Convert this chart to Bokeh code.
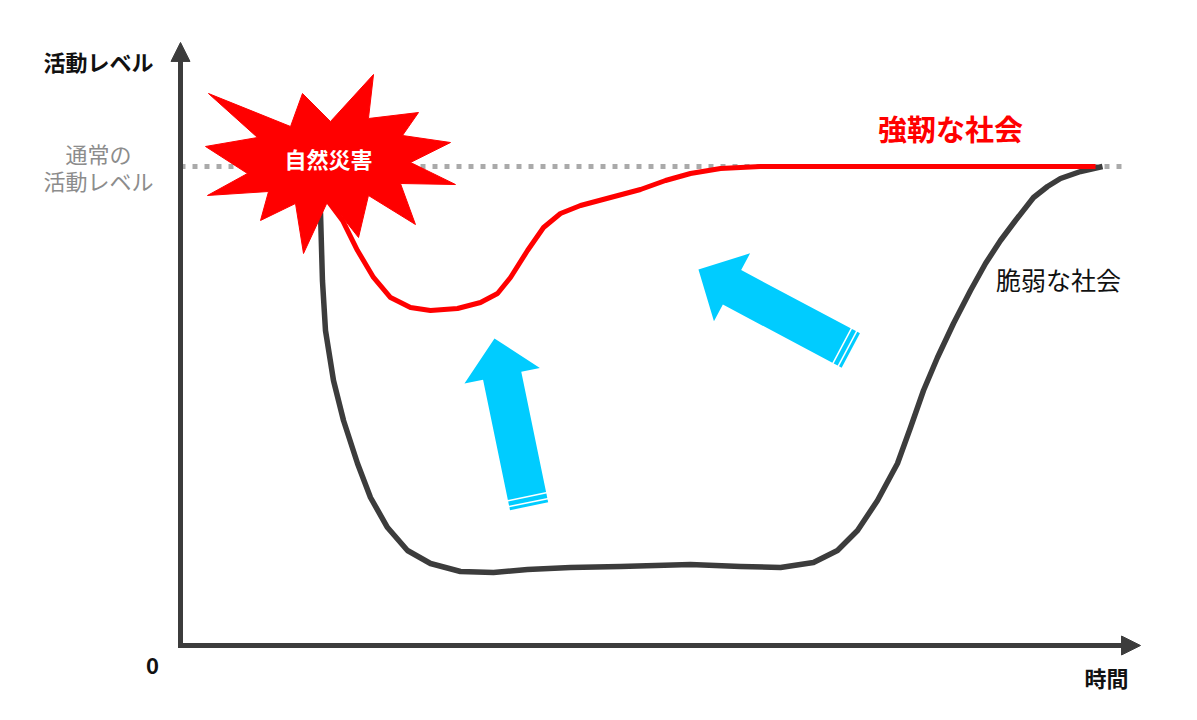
import numpy as np
from bokeh.plotting import figure
from bokeh.models import Range1d, Label, Arrow, NormalHead
from bokeh.embed import file_html
from bokeh.resources import INLINE

# time runs 0..100, activity level: normal = 100
fragile_t = [15.0, 15.22, 15.43, 15.76, 16.63, 17.72, 19.24, 20.65, 22.50, 24.67, 27.17, 30.43,
             34.02, 37.72, 42.39, 47.83, 55.43, 60.87, 65.22, 68.80, 71.41, 73.59, 75.76,
             77.93, 79.35, 80.76, 82.28, 84.02, 85.87, 87.50, 89.13, 90.76, 92.72, 94.24,
             95.65, 97.83, 100.22]
fragile_level = [97.1, 90.19, 76.20, 65.76, 55.32, 46.97, 38.00, 30.90, 24.63, 19.83, 17.12, 15.45,
                 15.24, 15.87, 16.28, 16.49, 16.91, 16.49, 16.28, 17.33, 19.83, 24.01, 30.27,
                 38.00, 45.51, 53.24, 60.13, 67.22, 74.11, 79.75, 84.55, 88.73, 93.53, 95.82,
                 97.49, 98.96, 100.0]

resilient_t = [15.43, 15.98, 17.61, 19.24, 20.98, 22.83, 25.00, 27.17, 30.11, 32.61, 34.46, 35.87,
               37.72, 39.46, 41.30, 43.48, 46.74, 50.00, 52.72, 55.43, 58.70, 63.04, 78.26, 99.46]
resilient_level = [96.03, 92.90, 88.73, 82.46, 76.83, 72.65, 70.56, 69.94, 70.35, 71.61, 73.49, 76.83,
                   82.46, 87.27, 90.19, 91.86, 93.53, 95.20, 97.08, 98.54, 99.58, 100.0, 100.0, 100.0]

normal_level = 100
normal_end = 102.4

# starburst outline (disaster marker)
burst_t = [3.04, 11.96, 13.26, 16.30, 20.98, 20.43, 25.87, 24.13, 29.35, 25.00, 29.89, 23.91,
           25.54, 20.43, 19.35, 16.09, 13.37, 12.50, 8.70, 9.57, 2.93, 7.28, 2.72, 8.37]
burst_level = [115.24, 108.35, 115.24, 109.39, 119.21, 110.02, 111.27, 106.47, 105.01, 100.84,
               96.24, 96.45, 87.89, 93.95, 85.18, 93.11, 81.84, 92.28, 88.73, 94.78, 93.95,
               98.54, 104.18, 106.05]

# recovery arrows: tail -> tip
arrow_tail_t = [37.66, 71.85]
arrow_tail_level = [31.21, 62.63]
arrow_tip_t = [34.13, 56.30]
arrow_tip_level = [64.09, 78.50]

W, H = 1180, 703
PX_T = 9.2
PX_L = 4.79
OX, OY = 180, 645

DARK = "#3c3c3c"
RED = "#ff0000"
CYAN = "#00ccff"
FONT = "Noto Sans CJK JP"


def to_px(t, l):
    return np.array([OX + t * PX_T, OY - l * PX_L])


def to_data(pts):
    pts = np.array(pts)
    return list((pts[:, 0] - OX) / PX_T), list((OY - pts[:, 1]) / PX_L)


def block_arrow(t0, l0, t1, l1, shaft=39, head=77, head_len=38):
    a = to_px(t0, l0)
    tip = to_px(t1, l1)
    d = tip - a
    d = d / np.hypot(*d)
    n = np.array([-d[1], d[0]])
    base = tip - d * head_len
    body = [a + n * shaft / 2, base + n * shaft / 2, base + n * head / 2, tip,
            base - n * head / 2, base - n * shaft / 2, a - n * shaft / 2]
    shapes = [to_data(body)]
    s = 1.5
    for band in (4.5, 3):
        st = a - d * s
        en = st - d * band
        shapes.append(to_data([st + n * shaft / 2, en + n * shaft / 2,
                               en - n * shaft / 2, st - n * shaft / 2]))
        s += band + 1.5
    return shapes


p = figure(width=W, height=H, output_backend="svg", toolbar_location=None,
           x_range=Range1d(-OX / PX_T, (W - OX) / PX_T),
           y_range=Range1d(-(H - OY) / PX_L, OY / PX_L),
           x_axis_type=None, y_axis_type=None, min_border=0)
p.grid.visible = False
p.outline_line_color = None

# normal activity level
p.line([0, normal_end], [normal_level, normal_level], line_color="#aaaaaa",
       line_width=5, line_dash="5 7")

# axes
p.line([0, 0, 103.3], [123.2, 0, 0], line_color=DARK, line_width=5, line_join="miter")
p.add_layout(Arrow(end=NormalHead(size=19, fill_color=DARK, line_color=DARK),
                   x_start=0, y_start=110, x_end=0, y_end=125.9, line_alpha=0))
p.add_layout(Arrow(end=NormalHead(size=19, fill_color=DARK, line_color=DARK),
                   x_start=95, y_start=0, x_end=104.35, y_end=0, line_alpha=0))

# curves
p.line(fragile_t, fragile_level, line_color=DARK, line_width=5.5, line_join="round")
p.line(resilient_t, resilient_level, line_color=RED, line_width=5, line_join="round")

# recovery arrows
xs, ys = [], []
for i in range(len(arrow_tail_t)):
    for sx, sy in block_arrow(arrow_tail_t[i], arrow_tail_level[i], arrow_tip_t[i], arrow_tip_level[i]):
        xs.append(sx)
        ys.append(sy)
p.patches(xs, ys, fill_color=CYAN, line_color=None)

# disaster burst
p.patch(burst_t, burst_level, fill_color=RED, line_color=RED, line_width=1)


def label(t, l, text, size, color="#111111", bold=True, align="center"):
    p.add_layout(Label(x=t, y=l, text=text, text_font=FONT, text_font_size=size,
                       text_color=color, text_font_style="bold" if bold else "normal",
                       text_align=align, text_baseline="middle"))


label(16.09, 101.7, "自然災害", "22px", color="white")
label(-8.91, 122.1, "活動レベル", "22px")
label(-8.91, 102.9, "通常の", "22px", color="#8c8c8c", bold=False)
label(-8.91, 97.1, "活動レベル", "22px", color="#8c8c8c", bold=False)
label(-3.04, -4.18, "0", "22px")
label(100.65, -6.68, "時間", "22px")
label(83.7, 108.1, "強靭な社会", "29px", color=RED)
label(95.43, 76.6, "脆弱な社会", "25px", bold=False)

open("out.html", "w").write(file_html(p, INLINE))
